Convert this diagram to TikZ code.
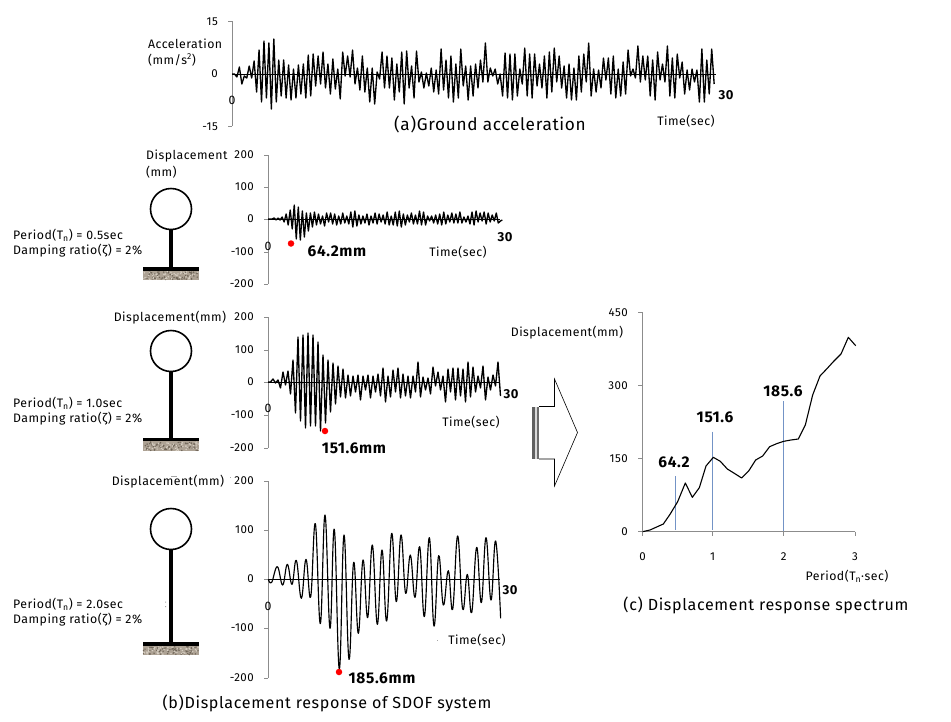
\documentclass[tikz,border=0pt]{standalone}
\usepackage{fontspec}
\setmainfont[LetterSpace=4]{Fira Sans}
\usetikzlibrary{calc}
\definecolor{axisgray}{HTML}{8C8C8C}
\definecolor{specblue}{HTML}{7393C6}
\definecolor{gndbase}{HTML}{ADA294}
\definecolor{gnddark}{HTML}{6E6457}
\definecolor{gndlight}{HTML}{D8D0C4}
\tikzset{
	axisln/.style={draw=axisgray,line width=0.9pt},
	zeroln/.style={draw=black,line width=0.6pt},
	wave/.style={draw=black,line width=1.35pt,line join=round},
	mass/.style={draw,circle,line width=1.6pt,minimum size=41pt,inner sep=0pt},
	stem/.style={line width=3.6pt},
	bar/.style={line width=3.6pt},
	peak/.style={fill=red,circle,inner sep=0pt,minimum size=6.5pt},
	ticktxt/.style={anchor=east,inner sep=0pt,font=\fontsize{11.5}{14}\selectfont},
	lbl/.style={inner sep=0pt,font=\fontsize{12.3}{14}\selectfont},
	val/.style={inner sep=0pt,font=\fontsize{15.5}{18}\selectfont\bfseries},
	capt/.style={inner sep=0pt,font=\fontsize{16.1}{19}\selectfont},
	endtxt/.style={inner sep=0pt,font=\fontsize{13}{15}\selectfont\bfseries},
	speck/.style={fill=gray!70},
}
\newcommand{\wavetrace}[4]{\draw[wave] (#1,#2) \foreach \v [count=\i] in {#4} { -- ({#1+\i*#3},{#2-\v}) };}
\newcommand{\gndblock}[2]{
	\fill[gndbase] (143,#1) rectangle (199,#2);
	\foreach \k in {1,...,70} {\fill[gnddark] ({143.5+55*rnd},{#1+2.5+(#2-#1-3)*rnd}) circle[radius=0.8pt];}
	\foreach \k in {1,...,50} {\fill[gndlight] ({143.5+55*rnd},{#1+2.5+(#2-#1-3)*rnd}) circle[radius=0.8pt];}
	\draw[bar] (143,#1) -- (199,#1);
}
\begin{document}
\begin{tikzpicture}[x=1pt,y=-1pt]
		\useasboundingbox (0,0) rectangle (951,721);
		\pgfmathsetseed{17}
		\begin{scope}
			\draw[axisln] (232,21) -- (232,126);
			\foreach \yy/\val in {22/15,74/0,127/-15} {
				\node[ticktxt] (acc\yy) at (218,\yy) {\val};
			}
			\draw[axisln] (228,21) -- (232,21) (228,126) -- (232,126);
			\draw[zeroln] (232,74) -- (716,74);
			\wavetrace{232}{74}{2.46}{0,-3,7,-10,-2,-4,8,-4,13,-18,
				24,-28,33,-24,31,-35,35,-28,14,-22,
				14,-24,9,-26,5,-24,9,-20,10,-24,
				19,-22,20,-12,18,-10,22,-14,10,-20,
				15,-15,5,-25,22,-2,18,-3,24,-10,
				6,-16,18,-18,6,-28,6,-30,2,-5,
				22,-14,18,-14,16,-26,10,-18,22,-30,
				23,-14,8,-24,23,-8,2,-14,1,-12,
				6,-18,4,-20,25,-16,14,-24,18,-28,
				10,-24,25,-12,8,-26,8,-22,10,-14,
				14,-8,31,-8,6,-2,5,-10,0,-22,
				21,-24,20,-26,20,-22,5,-10,
				26,-22,20,-24,20,-12,10,-14,18,-24,
				22,-18,26,-8,18,-14,8,-24,10,-26,
				6,-26,18,-18,20,-8,31,-22,5,-18,
				4,-14,16,-6,16,-20,18,-24,5,-22,
				12,-20,24,-2,5,-4,28,-8,18,-6,
				18,-22,14,-26,22,-6,10,-8,28,-22,
				16,-24,20,-4,12,-20,4,-16,5,-8,
				4,-28,25,-28,14,-20,25,-10}
			\node[lbl,anchor=west] (acclbl) at (148,44) {Acceleration};
			\node[lbl,anchor=west] (accunit) at (148,60) {(mm/s\textsuperscript{2})};
			\node[lbl] (acczero) at (232,100) {0};
			\node[endtxt] (accend) at (726,95) {30};
			\node[lbl] (acctime) at (686,121) {Time(sec)};
			\node[capt,font=\fontsize{17.2}{19}\selectfont] (capta) at (490,124) {(a)Ground acceleration};
		\end{scope}
		\begin{scope}
			\node[mass] (m1) at (171,209) {};
			\coordinate (b1) at (171,269);
			\draw[stem] (m1.south) -- (b1);
			\gndblock{269}{280}
			\node[lbl,anchor=west] (per1) at (13,235) {Period(T\textsubscript{n}) = 0.5sec};
			\node[lbl,anchor=west] (dmp1) at (13,251) {Damping ratio(ζ) = 2\%};
			\draw[axisln] (268,155) -- (268,284);
			\foreach \yy/\val in {155/200,187/100,219/0,252/-100,284/-200} {
				\node[ticktxt] (fa\yy) at (254,\yy) {\val};
				\draw[axisln] (264,\yy) -- (268,\yy);
			}
			\draw[zeroln] (268,219) -- (500,219);
			\wavetrace{268}{219}{2.02}{0,0,1,-1,1,-1,2,-3,5,-6,
				9,-10,14,-20,12,-21,8,-18,6,-12,
				6,-8,7,-6,5,-5,3,-7,6,-3,
				6,-5,5,-6,3,-5,6,-4,3,-5,
				7,-8,8,-7,4,-5,3,-4,5,-6,
				3,-4,6,-5,5,-3,4,-5,7,-6,
				3,-6,7,-7,8,-8,5,-6,4,-3,
				6,-5,4,-5,8,-6,7,-6,3,-2,
				3,-4,4,-5,5,-6,7,-5,4,-3,
				6,-4,5,-4,7,-4,2,-3,3,-5,
				7,-6,8,-3,6,-2,7,-5,6,-3,
				4,-2,6,-4,-2,-1}
			\node[peak] (pk1) at (291,243.5) {};
			\node[lbl,anchor=west] (dsp1) at (146,156) {Displacement};
			\node[lbl,anchor=west] (unt1) at (146,172) {(mm)};
			\node[lbl] (fzero) at (268,246) {0};
			\node[endtxt] (fend) at (505,237) {30};
			\node[val] (fval) at (337,251) {64.2mm};
			\node[lbl] (ftime) at (458,252) {Time(sec)};
		\end{scope}
		\begin{scope}
			\node[mass] (m2) at (171,351) {};
			\coordinate (b2) at (171,439.5);
			\draw[stem] (m2.south) -- (b2);
			\gndblock{439.5}{451}
			\node[lbl,anchor=west] (per2) at (13,403) {Period(T\textsubscript{n}) = 1.0sec};
			\node[lbl,anchor=west] (dmp2) at (13,419) {Damping ratio(ζ) = 2\%};
			\draw[axisln] (268,317) -- (268,448);
			\foreach \yy/\val in {317/200,350/100,382/0,415/-100,448/-200} {
				\node[ticktxt] (ma\yy) at (254,\yy) {\val};
				\draw[axisln] (264,\yy) -- (268,\yy);
			}
			\draw[zeroln] (268,382) -- (500,382);
			\wavetrace{268}{382}{2.5}{0,3,-1,2,-6,10,-3,11,-12,22,
				-31,45,-39,47,-46,49,-44,47,-44,40,
				-49,27,-41,22,-30,19,-22,16,-15,13,
				-16,7,-14,6,-10,7,-18,6,-8,7,
				-16,6,-10,8,-14,14,-20,6,-15,12,
				-10,14,-16,8,-14,6,-16,6,-10,20,
				-15,5,-8,4,-12,15,-4,10,-8,6,
				-20,13,-10,14,-18,14,-14,13,-20,20,
				-15,15,-10,6,-6,16,-18,5,-8,7,
				-4,20,-14}
			\node[peak] (pk2) at (325,431) {};
			\node[lbl] (dsp2) at (170,318) {Displacement(mm)};
			\node[lbl] (mzero) at (268,408) {0};
			\node[endtxt] (mend) at (511,394) {30};
			\node[val] (mval) at (354,448) {151.6mm};
			\node[lbl] (mtime) at (471,422) {Time(sec)};
		\end{scope}
		\begin{scope}
			\node[mass] (m3) at (171,529) {};
			\coordinate (b3) at (171,644);
			\draw[stem] (m3.south) -- (b3);
			\gndblock{644}{655}
			\node[lbl,anchor=west] (per3) at (13,604) {Period(T\textsubscript{n}) = 2.0sec};
			\node[lbl,anchor=west] (dmp3) at (13,620) {Damping ratio(ζ) = 2\%};
			\draw[axisln] (268,481) -- (268,678);
			\foreach \yy/\val in {481/200,530/100,579/0,628/-100,678/-200} {
				\node[ticktxt] (la\yy) at (254,\yy) {\val};
				\draw[axisln] (264,\yy) -- (268,\yy);
			}
			\draw[zeroln] (268,579) -- (500,579);
			\begin{scope}[shift={(0,465)},scale=1/3]
				\draw[wave,line width=1.15pt] plot[smooth,tension=0.7] coordinates {(805,343) (815,352) (832,305) (848,360) (862,298) (876,358) (889,286) (904,400) (918,283) (932,396) (946,176) (961,476) (975,150) (990,490) (1003,193) (1018,612) (1032,210) (1047,583) (1061,292) (1075,505) (1089,285) (1103,458) (1117,240) (1132,478) (1146,255) (1160,468) (1175,205) (1189,410) (1203,210) (1217,385) (1231,270) (1245,397) (1259,245) (1273,455) (1288,218) (1302,483) (1316,272) (1330,420) (1345,317) (1358,433) (1373,213) (1388,432) (1402,328) (1415,443) (1430,247) (1444,413) (1458,218) (1473,405) (1487,228) (1502,460)};
			\end{scope}
			\node[peak] (pk3) at (339,672) {};
			\node[lbl] (dsp3) at (168,482) {Displacement(mm)};
			\node[lbl] (lzero) at (268,606) {0};
			\node[endtxt] (lend) at (510,590) {30};
			\node[val] (lval) at (382,678) {185.6mm};
			\node[lbl] (ltime) at (477,640) {Time(sec)};
			\node[capt] (captb) at (327,703) {(b)Displacement response of SDOF system};
			\fill[speck] (171,476) rectangle (177,476.8);
			\fill[speck] (229.5,477) rectangle (231,478);
			\fill[speck] (436.5,639.5) rectangle (437.8,640.8);
			\fill[speck] (165,601.5) rectangle (166,602.5) (165,606) rectangle (166,607);
		\end{scope}
		\begin{scope}
			\fill[gray!75!black] (531.5,406.5) rectangle (535.3,459);
			\fill[gray!30] (535.3,406.5) rectangle (537.3,459);
			\fill[gray!85!black] (537.3,406.5) rectangle (539,459);
			\draw[line width=0.6pt] (539,406.5) -- (554.5,406.5) -- (554.5,379) -- (577.5,432.5) -- (554.5,486) -- (554.5,459) -- (539,459);
		\end{scope}
		\begin{scope}
			\draw[axisln] (642.7,312.7) -- (642.7,531.7) -- (855,531.7);
			\foreach \yy/\val in {312.7/450,385.7/300,458.7/150,531.7/0} {
				\node[ticktxt] (sa\val) at (628,\yy) {\val};
				\draw[axisln] (638,\yy) -- (642.7,\yy);
			}
			\foreach \xx/\val in {642.7/0,712.7/1,783.7/2,855/3} {
				\node[ticktxt,anchor=center] (sb\val) at (\xx,557) {\val};
				\draw[axisln] (\xx,531.7) -- (\xx,536);
			}
			\draw[specblue,line width=1.2pt] (675.5,476) -- (675.5,529.5) (712.5,431.7) -- (712.5,529.5) (783.5,401) -- (783.5,531);
			\begin{scope}[shift={(500,300)},scale=1/3]
				\draw[wave,line width=1.1pt] (428,695) -- (450,690) -- (470,681) -- (490,672) -- (510,643) -- (533,605) -- (556,549) -- (577,592) -- (598,563) -- (618,498) -- (640,472) -- (661,484) -- (682,507) -- (703,520) -- (725,534) -- (746,513) -- (767,480) -- (788,468) -- (809,440) -- (830,431) -- (851,424) -- (873,420) -- (895,417) -- (916,375) -- (938,285) -- (960,228) -- (980,207) -- (1000,185) -- (1023,162) -- (1045,112) -- (1067,137);
			\end{scope}
			\node[val] (sv1) at (674,462) {64.2};
			\node[val] (sv2) at (715,417) {151.6};
			\node[val] (sv3) at (783,391) {185.6};
			\node[lbl] (sdsp) at (567,333) {Displacement(mm)};
			\node[lbl] (sper) at (847,576) {Period(T\textsubscript{n}·sec)};
			\node[capt] (captc) at (766,605) {(c) Displacement response spectrum};
		\end{scope}
	\end{tikzpicture}
\end{document}
